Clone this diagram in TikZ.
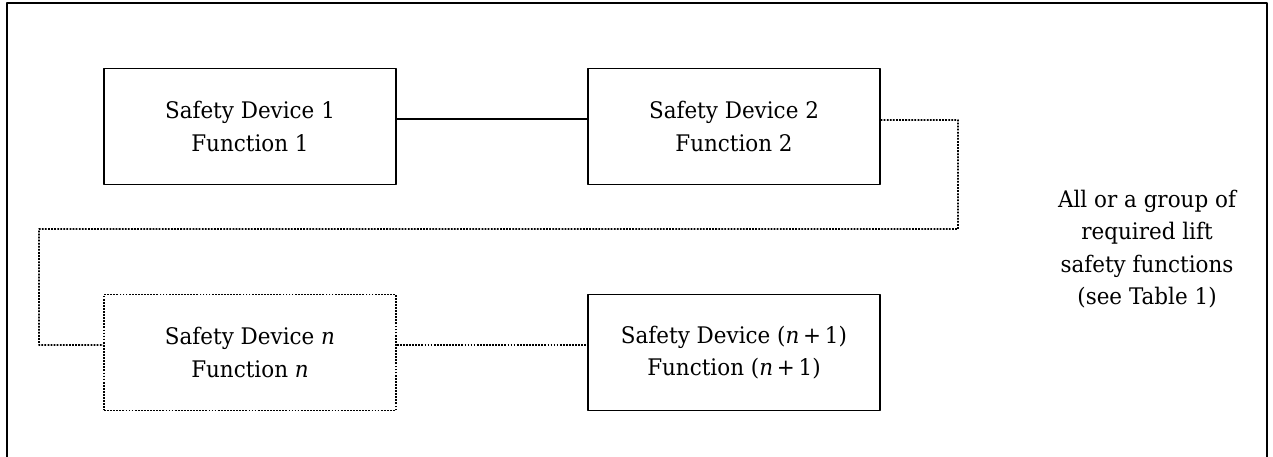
\documentclass[tikz,border=0pt]{standalone}
\usepackage{fontspec}
\setmainfont[FakeStretch=0.94]{DejaVu Serif}

\begin{document}
\begin{tikzpicture}[x=0.02cm, y=-0.02cm, line join=round,
	font=\fontsize{13}{18.4}\selectfont,
	device/.style={draw, line width=0.75pt, align=center, inner sep=0pt, minimum width=5.84cm, minimum height=2.32cm},
	devicedot/.style={device, line width=1pt, dash pattern=on 1pt off 0.75pt},
	link/.style={line width=0.75pt},
	linkdot/.style={link, line width=1pt, dash pattern=on 1pt off 0.75pt}]
	\useasboundingbox (0,0) rectangle (1273,456);
	%Khung ngoai
	\draw[line width=0.75pt] (7,470)--(7,3)--(1267,3)--(1267,470);
	\node[device] (D1) at (250,126.5) {Safety Device 1\\Function 1};
	\node[device] (D2) at (734,126.5) {Safety Device 2\\Function 2};
	\node[devicedot] (Dn) at (250,352.5) {Safety Device \textit{n}\\Function \textit{n}};
	\node[device] (Dm) at (734,352.5) {Safety Device (\textit{n}\,+\,1)\\Function (\textit{n}\,+\,1)};
	\node[align=center] (G) at (1147,249) {All or a group of\\required lift\\safety functions\\(see Table 1)};
	\path
	(958,229) coordinate (R)
	(39,345) coordinate (L)
	;
	\draw[link] ([yshift=0.15cm]D1.east)--([yshift=0.15cm]D1.east -| D2.west);
	\draw[linkdot] ([yshift=0.13cm]D2.east) -| (R) -| (L) -- ([yshift=0.15cm]Dn.west);
	\draw[linkdot] ([yshift=0.15cm]Dn.east)--([yshift=0.15cm]Dn.east -| Dm.west);
\end{tikzpicture}
\end{document}
